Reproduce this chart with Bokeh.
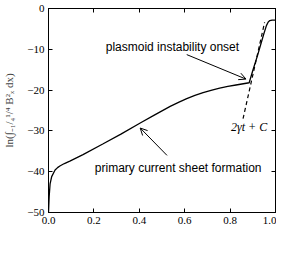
from bokeh.plotting import figure
from bokeh.models import (Range1d, LinearAxis, FixedTicker, CustomJSTickFormatter,
                          Label, Arrow, OpenHead)
from bokeh.embed import file_html
from bokeh.resources import INLINE

# ---- data ----
t_vals = [0.0, 0.003, 0.007, 0.014, 0.029, 0.04, 0.05, 0.07, 0.094, 0.152, 0.239,
          0.319, 0.406, 0.464, 0.536, 0.575, 0.609, 0.645, 0.681, 0.72, 0.754,
          0.79, 0.826, 0.884, 0.9, 0.922, 0.948, 0.96, 0.968, 0.975, 0.985, 1.0]
ln_vals = [-50.0, -46.0, -43.0, -41.2, -39.6, -39.0, -38.6, -38.0, -37.4, -35.8, -33.2,
           -30.8, -28.0, -26.2, -24.0, -22.95, -22.1, -21.3, -20.6, -19.98, -19.5,
           -19.1, -18.75, -18.2, -15.2, -11.3, -6.3, -4.2, -3.3, -2.95, -2.85, -2.85]
fit_t = [0.857, 0.952]
fit_v = [-27.0, -3.4]

x_ticks = [0.0, 0.2, 0.4, 0.6, 0.8, 1.0]
y_ticks = [-50, -40, -30, -20, -10, 0]

p = figure(width=276, height=241, output_backend="svg", toolbar_location=None,
           x_range=Range1d(0, 1), y_range=Range1d(-50, 0),
           x_axis_location=None, y_axis_location=None,
           min_border_left=48, min_border_right=1, min_border_top=8, min_border_bottom=29)
p.grid.visible = False
p.background_fill_color = "white"
p.outline_line_color = "black"
p.outline_line_width = 1
p.outline_line_alpha = 1

serif = "Liberation Serif"

xfmt = CustomJSTickFormatter(code="return tick.toFixed(1);")
yfmt = CustomJSTickFormatter(code="return tick < 0 ? '\\u2212' + Math.abs(tick) : String(tick);")
blank = CustomJSTickFormatter(code="return '';")

def style(ax, labels=True):
    ax.major_tick_in = 4
    ax.major_tick_out = 0
    ax.minor_tick_line_color = None
    ax.axis_line_color = "black"
    ax.major_tick_line_color = "black"
    ax.major_label_text_font = serif
    ax.major_label_text_font_size = "11px"
    ax.major_label_text_color = "black"
    if not labels:
        ax.major_label_standoff = 0
        ax.major_label_text_font_size = "0px"

bottom = LinearAxis(ticker=FixedTicker(ticks=x_ticks), formatter=xfmt)
style(bottom)
bottom.major_label_standoff = 4
p.add_layout(bottom, "below")

left = LinearAxis(ticker=FixedTicker(ticks=y_ticks), formatter=yfmt,
                  axis_label="ln(\u222b\u208b\u2081/\u2084\u00b9/\u2074 B\u00b2\u2093 dx)")
style(left)
left.major_label_standoff = 4
left.axis_label_standoff = 9
left.axis_label_text_font = serif
left.axis_label_text_font_style = "normal"
left.axis_label_text_font_size = "11px"
p.add_layout(left, "left")

top = LinearAxis(ticker=FixedTicker(ticks=x_ticks), formatter=blank)
style(top, labels=False)
p.add_layout(top, "above")

right = LinearAxis(ticker=FixedTicker(ticks=y_ticks), formatter=blank)
style(right, labels=False)
p.add_layout(right, "right")

# x-axis title placed as a label under the tick labels
p.add_layout(Label(x=0.5, y=-50, y_offset=-20, text="t", text_font=serif,
                   text_font_style="italic", text_font_size="12px",
                   text_align="center", text_baseline="middle", text_color="black"))

# main curve and fit line
p.line(t_vals, ln_vals, line_color="black", line_width=1.3)
p.line(fit_t, fit_v, line_color="black", line_width=1.2, line_dash="4 3")

sans = "Liberation Sans"
p.add_layout(Label(x=0.252, y=-9.5, text="plasmoid instability onset",
                   text_font=sans, text_font_size="12px", text_baseline="middle",
                   text_color="black"))
p.add_layout(Label(x=0.204, y=-39.0, text="primary current sheet formation",
                   text_font=sans, text_font_size="12px", text_baseline="middle",
                   text_color="black"))
p.add_layout(Label(x=0.804, y=-29.0, text="2\u03b3t + C",
                   text_font=serif, text_font_style="italic", text_font_size="12px",
                   text_baseline="middle", text_color="black"))

p.add_layout(Arrow(end=OpenHead(size=7, line_width=1, line_color="black"),
                   x_start=0.609, y_start=-11.3, x_end=0.87, y_end=-17.3,
                   line_width=1, line_color="black"))
p.add_layout(Arrow(end=OpenHead(size=7, line_width=1, line_color="black"),
                   x_start=0.522, y_start=-36.0, x_end=0.404, y_end=-29.3,
                   line_width=1, line_color="black"))

open("out.html", "w").write(file_html(p, INLINE))
